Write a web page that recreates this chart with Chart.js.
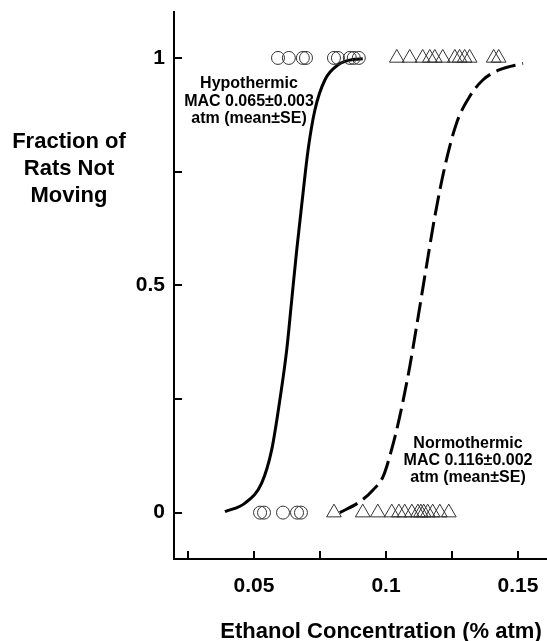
<!DOCTYPE html>
<html><head><meta charset="utf-8">
<script src="https://cdn.jsdelivr.net/npm/chart.js@4/dist/chart.umd.min.js"></script>
<style>html,body{margin:0;padding:0;background:#fff;}#wrap{width:547px;height:641px;}</style>
</head><body><div id="wrap"><canvas id="c" width="547" height="641"></canvas></div>
<script>
// Individual rats: ethanol concentration (% atm) at which they did / did not move
const hypoStillX   = [0.0591, 0.0632, 0.0685, 0.0697, 0.0803, 0.0818, 0.0863, 0.0878, 0.0897]; // fraction 1
const hypoMovingX  = [0.0523, 0.0538, 0.0610, 0.0663, 0.0678];                                  // fraction 0
const normoStillX  = [0.1041, 0.1090, 0.1139, 0.1166, 0.1185, 0.1215, 0.1261, 0.1279, 0.1298, 0.1317, 0.1408, 0.1427];
const normoMovingX = [0.0803, 0.0912, 0.0969, 0.1022, 0.1049, 0.1071, 0.1098, 0.1121, 0.1132, 0.1143, 0.1158, 0.1177, 0.1204, 0.1238];

// Fitted curves
const hypoCurveX  = [0.0390, 0.0466, 0.0529, 0.0567, 0.0598, 0.0624, 0.0643, 0.0662, 0.0683, 0.0705, 0.0731, 0.0769, 0.0819, 0.0882, 0.0912];
const hypoCurveY  = [0.002, 0.021, 0.065, 0.138, 0.248, 0.358, 0.468, 0.578, 0.688, 0.798, 0.886, 0.952, 0.985, 0.997, 0.998];
const normoCurveX = [0.0825, 0.0901, 0.0951, 0.0989, 0.1021, 0.1052, 0.1090, 0.1122, 0.1153, 0.1185, 0.1223, 0.1267, 0.1317, 0.1368, 0.1431, 0.1519];
const normoCurveY = [0.000, 0.024, 0.050, 0.079, 0.138, 0.211, 0.321, 0.431, 0.541, 0.651, 0.761, 0.856, 0.915, 0.952, 0.974, 0.988];

// Axis ticks
const xTickValues = [0.025, 0.05, 0.075, 0.1, 0.125, 0.15];
const xLabelValues = [0.05, 0.1, 0.15];
const xTickLabels = ['0.05', '0.1', '0.15'];
const yTickValues = [0, 0.25, 0.5, 0.75, 1];
const yLabelValues = [0, 0.5, 1];
const yTickLabels = ['0', '0.5', '1'];

const yTitleLines = ['Fraction of', 'Rats Not', 'Moving'];
const xTitle = 'Ethanol Concentration (% atm)';
const hypoLabel = ['Hypothermic', 'MAC 0.065\u00b10.003', 'atm (mean\u00b1SE)'];
const normoLabel = ['Normothermic', 'MAC 0.116\u00b10.002', 'atm (mean\u00b1SE)'];

const FONT = '"Liberation Sans", Arial, Helvetica, sans-serif';

function pts(xs, ys) { return xs.map((x, i) => ({x: x, y: Array.isArray(ys) ? ys[i] : ys})); }
function labelFor(v, vals, labels) {
  for (let i = 0; i < vals.length; i++) if (Math.abs(v - vals[i]) < 1e-9) return labels[i];
  return '';
}

const decor = {
  id: 'decor',
  afterDraw(chart) {
    const ctx = chart.ctx, xs = chart.scales.x, ys = chart.scales.y, a = chart.chartArea;
    ctx.save();
    ctx.strokeStyle = '#000'; ctx.lineWidth = 2;
    xs.ticks.forEach(t => {
      const p = Math.round(xs.getPixelForValue(t.value));
      ctx.beginPath(); ctx.moveTo(p, a.bottom); ctx.lineTo(p, a.bottom - 8); ctx.stroke();
    });
    ys.ticks.forEach(t => {
      const p = Math.round(ys.getPixelForValue(t.value));
      ctx.beginPath(); ctx.moveTo(a.left, p); ctx.lineTo(a.left + 8, p); ctx.stroke();
    });
    ctx.fillStyle = '#000';
    ctx.textAlign = 'center'; ctx.textBaseline = 'alphabetic';
    // x tick labels
    ctx.font = 'bold 21px ' + FONT;
    xLabelValues.forEach((v, i) => ctx.fillText(xTickLabels[i], xs.getPixelForValue(v), a.bottom + 33));
    ctx.font = 'bold 22px ' + FONT;
    [148, 175, 202].forEach((y, i) => ctx.fillText(yTitleLines[i], 69, y));
    ctx.fillText(xTitle, 381, 638);
    ctx.font = 'bold 16px ' + FONT;
    [88, 105.5, 123].forEach((y, i) => ctx.fillText(hypoLabel[i], 249, y));
    [448, 465, 482].forEach((y, i) => ctx.fillText(normoLabel[i], 468, y));
    ctx.restore();
  }
};

const markerCommon = {showLine: false, backgroundColor: 'rgba(0,0,0,0)', borderColor: '#333', borderWidth: 1, pointBorderWidth: 1, pointHoverRadius: 0};

new Chart(document.getElementById('c'), {
  type: 'line',
  data: {
    datasets: [
      Object.assign({label: 'hypo still', data: pts(hypoStillX, 1), pointStyle: 'circle', pointRadius: 6.5}, markerCommon),
      Object.assign({label: 'hypo moving', data: pts(hypoMovingX, 0), pointStyle: 'circle', pointRadius: 6.5}, markerCommon),
      Object.assign({label: 'normo still', data: pts(normoStillX, 1), pointStyle: 'triangle', pointRadius: 8.5}, markerCommon),
      Object.assign({label: 'normo moving', data: pts(normoMovingX, 0), pointStyle: 'triangle', pointRadius: 8.5}, markerCommon),
      {label: 'hypo fit', data: pts(hypoCurveX, hypoCurveY), borderColor: '#000', borderWidth: 3, pointRadius: 0, cubicInterpolationMode: 'monotone', fill: false},
      {label: 'normo fit', data: pts(normoCurveX, normoCurveY), borderColor: '#000', borderWidth: 3, borderDash: [20, 7], pointRadius: 0, cubicInterpolationMode: 'monotone', fill: false}
    ]
  },
  options: {
    responsive: false, animation: false, devicePixelRatio: 1,
    layout: {autoPadding: false, padding: {left: 0, top: 12, right: 0, bottom: 0}},
    plugins: {legend: {display: false}, tooltip: {enabled: false}},
    scales: {
      x: {
        type: 'linear', min: 0.0197, max: 0.161,
        grid: {display: false, drawTicks: false},
        border: {display: true, color: '#000', width: 2},
        afterBuildTicks: s => { s.ticks = xTickValues.map(v => ({value: v})); },
        afterFit: s => { s.height = 82; s.paddingLeft = 0; s.paddingRight = 0; },
        ticks: {display: false, callback: v => labelFor(v, xLabelValues, xTickLabels)}
      },
      y: {
        type: 'linear', min: -0.102, max: 1.101,
        grid: {display: false, drawTicks: false},
        border: {display: true, color: '#000', width: 2},
        afterBuildTicks: s => { s.ticks = yTickValues.map(v => ({value: v})); },
        afterFit: s => { s.width = 174; s.paddingTop = 0; s.paddingBottom = 0; },
        ticks: {autoSkip: false, padding: 9, color: '#000', font: {family: FONT, size: 21, weight: 'bold'},
          callback: v => labelFor(v, yLabelValues, yTickLabels)}
      }
    }
  },
  plugins: [decor]
});
</script></body></html>
